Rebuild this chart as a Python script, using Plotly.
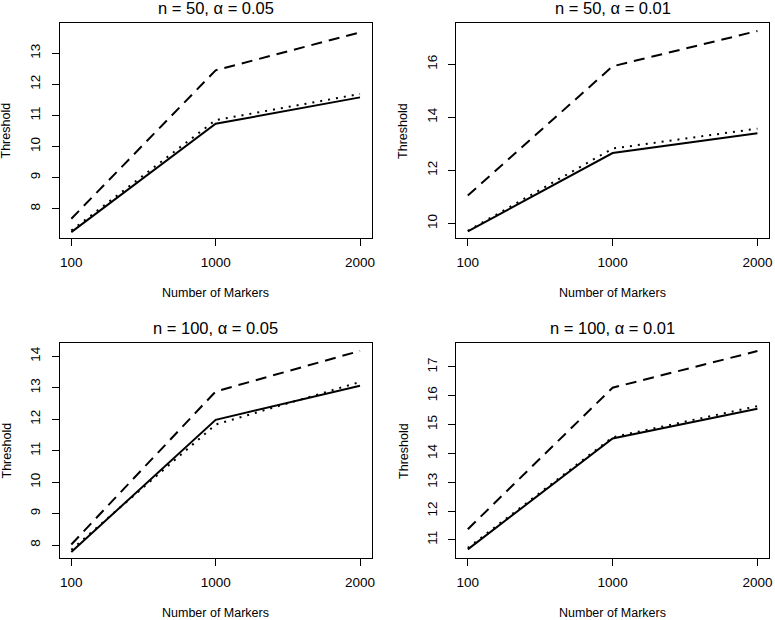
import plotly.graph_objects as go

markers = ["100", "1000", "2000"]
titles = ["n = 50, α = 0.05", "n = 50, α = 0.01", "n = 100, α = 0.05", "n = 100, α = 0.01"]

solid = [
    [7.25, 10.73, 11.58],
    [9.70, 12.65, 13.40],
    [7.78, 11.98, 13.06],
    [10.67, 14.52, 15.55],
]
dashed = [
    [7.68, 12.45, 13.67],
    [11.05, 15.92, 17.25],
    [8.02, 12.88, 14.17],
    [11.37, 16.28, 17.55],
]
dotted = [
    [7.30, 10.85, 11.69],
    [9.72, 12.82, 13.57],
    [7.85, 11.83, 13.18],
    [10.72, 14.56, 15.64],
]
y_ranges = [[7.06, 13.97], [9.45, 17.55], [7.59, 14.42], [10.37, 17.83]]
y_dticks = [1, 2, 1, 1]

W, H = 775, 620
# plot boxes in pixels: (left, right, top, bottom)
boxes = [(60, 373, 23, 238), (458, 772, 23, 238), (60, 373, 343, 558), (458, 772, 343, 558)]

FONT = "Liberation Sans, Arial, Helvetica, sans-serif"
fig = go.Figure()
layout = dict(
    width=W, height=H, margin=dict(l=0, r=0, t=0, b=0),
    paper_bgcolor="white", plot_bgcolor="white", showlegend=False,
    font=dict(family=FONT, color="black", size=12),
)
annotations = []
for i in range(4):
    xa = "x" if i == 0 else f"x{i+1}"
    ya = "y" if i == 0 else f"y{i+1}"
    for vals, dash in ((dotted[i], "2px,6px"), (dashed[i], "11px,7px"), (solid[i], "solid")):
        fig.add_trace(go.Scatter(x=markers, y=vals, mode="lines", xaxis=xa, yaxis=ya,
                                 line=dict(color="black", width=2, dash=dash),
                                 hoverinfo="skip"))
    l, r, t, b = boxes[i]
    xd = [l / W, r / W]
    yd = [1 - b / H, 1 - t / H]
    axcommon = dict(showline=True, linecolor="black", linewidth=1, mirror=True,
                    ticks="outside", ticklen=7, tickwidth=1, tickcolor="black",
                    showgrid=False, zeroline=False,
                    tickfont=dict(family=FONT, size=13.5, color="black"))
    layout["xaxis" if i == 0 else f"xaxis{i+1}"] = dict(
        domain=xd, anchor=ya, type="category", range=[-0.08, 2.08],
        ticklabelstandoff=5, **axcommon)
    layout["yaxis" if i == 0 else f"yaxis{i+1}"] = dict(
        domain=yd, anchor=xa, range=y_ranges[i], dtick=y_dticks[i], tick0=0,
        tickangle=-90, ticklabelstandoff=6, **axcommon)
    cx = (l + r) / 2 / W
    annotations.append(dict(text=titles[i], x=cx, y=1 - (t - 15) / H, xref="paper", yref="paper",
                            xanchor="center", yanchor="middle", showarrow=False,
                            font=dict(family=FONT, size=16.5, color="black")))
    annotations.append(dict(text="Number of Markers", x=cx, y=1 - (b + 55) / H, xref="paper", yref="paper",
                            xanchor="center", yanchor="middle", showarrow=False,
                            font=dict(family=FONT, size=12.5, color="black")))
    annotations.append(dict(text="Threshold", x=(l - 53) / W, y=1 - (t + b) / 2 / H, xref="paper", yref="paper",
                            xanchor="center", yanchor="middle", showarrow=False, textangle=-90,
                            font=dict(family=FONT, size=12.5, color="black")))
layout["annotations"] = annotations
fig.update_layout(**layout)
fig.write_html("out.html", config={"displayModeBar": False},
               post_script="document.body.style.margin='0px';document.body.style.overflow='hidden';")
